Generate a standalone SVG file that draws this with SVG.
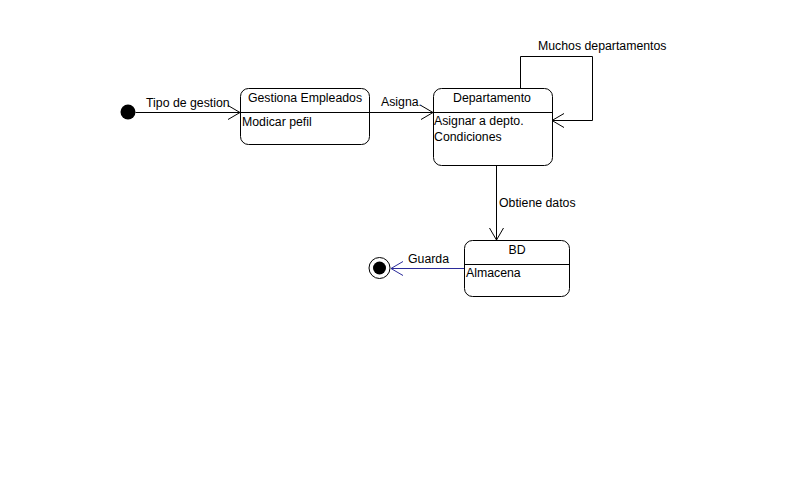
<svg xmlns="http://www.w3.org/2000/svg" width="789" height="500" viewBox="0 0 789 500">
<style>
text{font-family:"Liberation Sans",Arial,sans-serif;font-size:12.3px;fill:#000}
.box{fill:#fff;stroke:#000;stroke-width:1}
.ln{fill:none;stroke:#000;stroke-width:1}
.ah{fill:none;stroke:#000;stroke-width:1}
.blue{stroke:#2b2b9a}
.mid{text-anchor:middle}
</style>
<rect width="789" height="500" fill="#fff"/>
<g id="connectors">
<path class="ln" d="M135.5 112.5H240"/>
<path class="ah" d="M228 105.5L240 112.5L228 119.5"/>
<text x="146" y="107">Tipo de gestion</text>
<path class="ln" d="M369 112.5H433"/>
<path class="ah" d="M421 105.5L433 112.5L421 119.5"/>
<text x="381" y="106">Asigna.</text>
<path class="ln" d="M520.5 88V56.5H592.5V120.5H552"/>
<path class="ah" d="M564 113.5L552 120.5L564 127.5"/>
<text x="538" y="50">Muchos departamentos</text>
<path class="ln" d="M496.5 165V240"/>
<path class="ah" d="M489.5 228L496.5 240L503.5 228"/>
<text x="499" y="207">Obtiene datos</text>
<path class="ln blue" d="M464 268.5H391"/>
<path class="ah blue" d="M403 261.5L391 268.5L403 275.5"/>
<text x="408" y="263">Guarda</text>
</g>
<g id="initial">
<circle cx="128" cy="112" r="7.5" fill="#000"/>
</g>
<g id="gestiona">
<rect class="box" x="240.5" y="88.5" width="129" height="56" rx="8"/>
<path class="ln" d="M240.5 112.5H369.5"/>
<text class="mid" x="305" y="102">Gestiona Empleados</text>
<text x="242" y="126">Modicar pefil</text>
</g>
<g id="departamento">
<rect class="box" x="433.5" y="88.5" width="119" height="77" rx="8"/>
<path class="ln" d="M433.5 112.5H552.5"/>
<text class="mid" x="492" y="102">Departamento</text>
<text x="434" y="125">Asignar a depto.</text>
<text x="434" y="141">Condiciones</text>
</g>
<g id="bd">
<rect class="box" x="464.5" y="240.5" width="105" height="56" rx="8"/>
<path class="ln" d="M464.5 264.5H569.5"/>
<text class="mid" x="517" y="254">BD</text>
<text x="466" y="277">Almacena</text>
</g>
<g id="final">
<circle cx="379.5" cy="268" r="10.5" fill="#fff" stroke="#000"/>
<circle cx="379.5" cy="268" r="6.5" fill="#000"/>
</g>
</svg>
